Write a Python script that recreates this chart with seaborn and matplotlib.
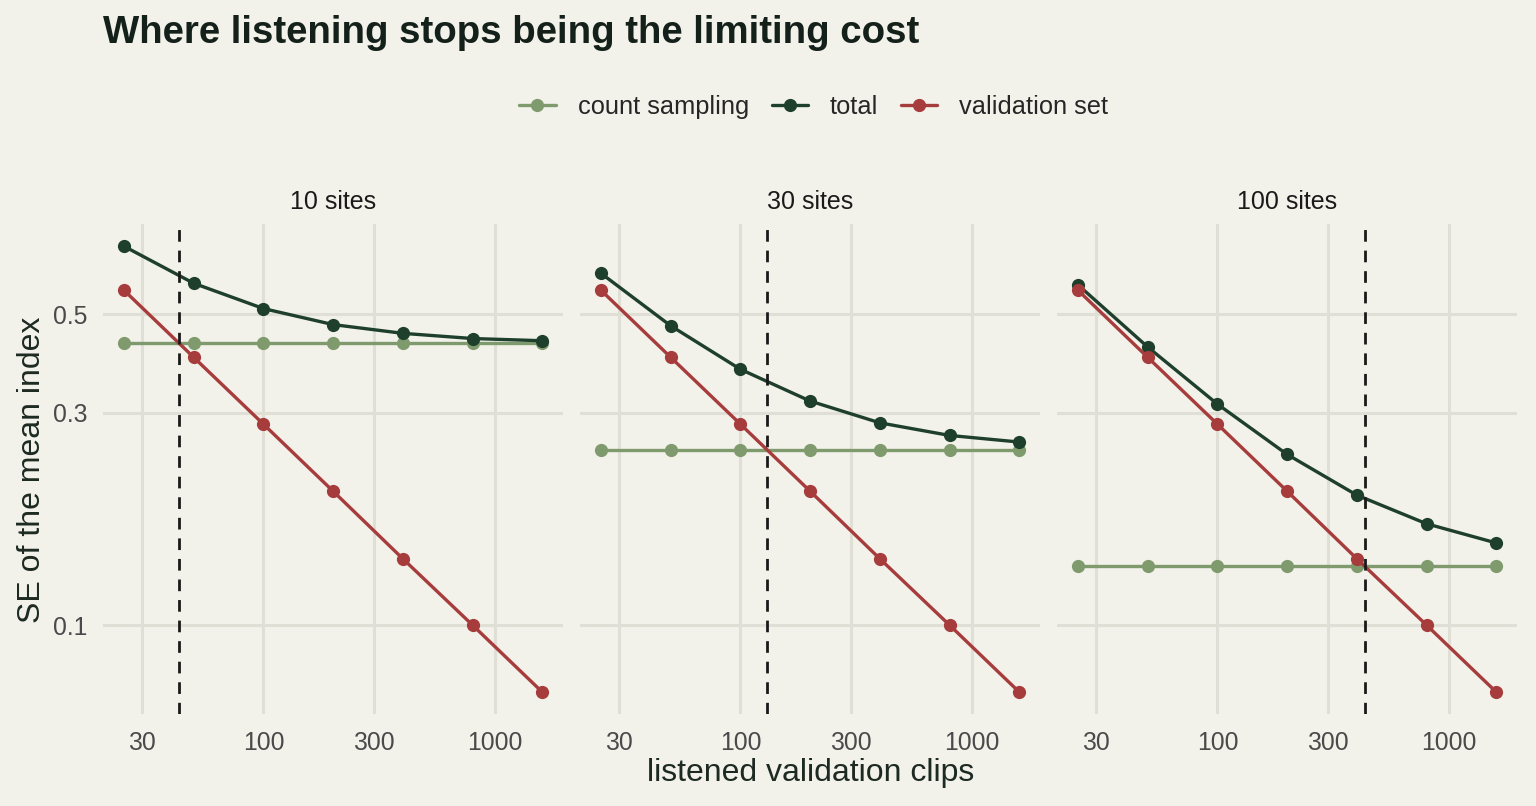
import numpy as np
import pandas as pd
import matplotlib
matplotlib.use("Agg")
import matplotlib.pyplot as plt
import seaborn as sns
from matplotlib.lines import Line2D

# ---- data ----
clips = [25, 50, 100, 200, 400, 800, 1600]
sites = ["10 sites", "30 sites", "100 sites"]
validation_set = [0.566, 0.400, 0.283, 0.200, 0.141, 0.100, 0.0707]
count_sampling = {"10 sites": 0.430, "30 sites": 0.248, "100 sites": 0.136}
total = {
    "10 sites": [0.711, 0.587, 0.515, 0.474, 0.453, 0.441, 0.436],
    "30 sites": [0.618, 0.471, 0.376, 0.319, 0.285, 0.267, 0.258],
    "100 sites": [0.582, 0.422, 0.314, 0.242, 0.196, 0.169, 0.153],
}
crossover = {"10 sites": 43, "30 sites": 130, "100 sites": 432}
x_ticks = [30, 100, 300, 1000]
y_ticks = [0.1, 0.3, 0.5]

components = ["count sampling", "total", "validation set"]
palette = {"count sampling": "#7f9a6c", "total": "#1e3f2c", "validation set": "#a63c3c"}

rows = []
for s in sites:
    for i, c in enumerate(clips):
        rows.append((s, c, "count sampling", count_sampling[s]))
        rows.append((s, c, "total", total[s][i]))
        rows.append((s, c, "validation set", validation_set[i]))
df = pd.DataFrame(rows, columns=["sites", "clips", "component", "se"])

# ---- style ----
BG = "#f2f1ea"
GRID = "#e0dfd5"
sns.set_theme(style="white")
plt.rcParams["font.family"] = ["Liberation Sans", "DejaVu Sans"]
plt.rcParams["figure.facecolor"] = BG
plt.rcParams["axes.facecolor"] = BG
plt.rcParams["savefig.facecolor"] = BG

fig = plt.figure(figsize=(15.36, 8.06), dpi=100)

W, H = 1536, 806
lefts = [103, 580, 1057]
pw = 460
top_px, bot_px = 224, 714

xlim = (10 ** 1.307, 10 ** 3.294)
ylim = (10 ** -1.2, 10 ** -0.098)

for k, s in enumerate(sites):
    ax = fig.add_axes([lefts[k] / W, 1 - bot_px / H, pw / W, (bot_px - top_px) / H])
    ax.set_xscale("log")
    ax.set_yscale("log")
    ax.set_xlim(*xlim)
    ax.set_ylim(*ylim)
    for xt in x_ticks:
        ax.axvline(xt, color=GRID, lw=2.2, zorder=0)
    for yt in y_ticks:
        ax.axhline(yt, color=GRID, lw=2.2, zorder=0)
    sub = df[df["sites"] == s]
    sns.lineplot(data=sub, x="clips", y="se", hue="component", hue_order=components,
                 palette=palette, marker="o", markersize=9.5, markeredgewidth=0,
                 linewidth=2.4, legend=False, ax=ax, zorder=3)
    ax.axvline(crossover[s], color="#1a1a1a", lw=2.0, ls=(0, (4.2, 3.2)), zorder=4)
    for sp in ax.spines.values():
        sp.set_visible(False)
    ax.set_xticks(x_ticks)
    ax.set_xticklabels([str(t) for t in x_ticks])
    ax.xaxis.set_minor_locator(matplotlib.ticker.NullLocator())
    ax.yaxis.set_minor_locator(matplotlib.ticker.NullLocator())
    ax.set_yticks(y_ticks)
    if k == 0:
        ax.set_yticklabels([f"{t:g}" for t in y_ticks])
    else:
        ax.set_yticklabels([])
    ax.tick_params(axis="x", length=0, labelsize=17.8, labelcolor="#4a4a4a", pad=12)
    ax.tick_params(axis="y", length=0, labelsize=17.8, labelcolor="#4a4a4a", pad=11)
    ax.set_xlabel("")
    ax.set_ylabel("")
    fig.text((lefts[k] + pw / 2) / W, 1 - 202 / H, s, ha="center", va="center",
             fontsize=18, color="#1a1a1a")

fig.text(103 / W, 1 - 33 / H, "Where listening stops being the limiting cost",
         ha="left", va="center", fontsize=27.6, fontweight="bold", color="#14201a")
fig.text(811 / W, 1 - 773 / H, "listened validation clips", ha="center", va="center",
         fontsize=23, color="#1c2a22")
fig.text(32 / W, 1 - 470 / H, "SE of the mean index", ha="center", va="center",
         rotation=90, fontsize=23, color="#1c2a22")

handles = [Line2D([0], [0], color=palette[c], lw=2.4, marker="o", markersize=9.5,
                  markeredgewidth=0) for c in components]
fig.legend(handles, components, loc="center", bbox_to_anchor=(814 / W, 1 - 107 / H),
           ncol=3, frameon=False, fontsize=18.3, handlelength=1.42, handletextpad=0.87,
           columnspacing=0.9)

fig.savefig("out.png", dpi=100)
